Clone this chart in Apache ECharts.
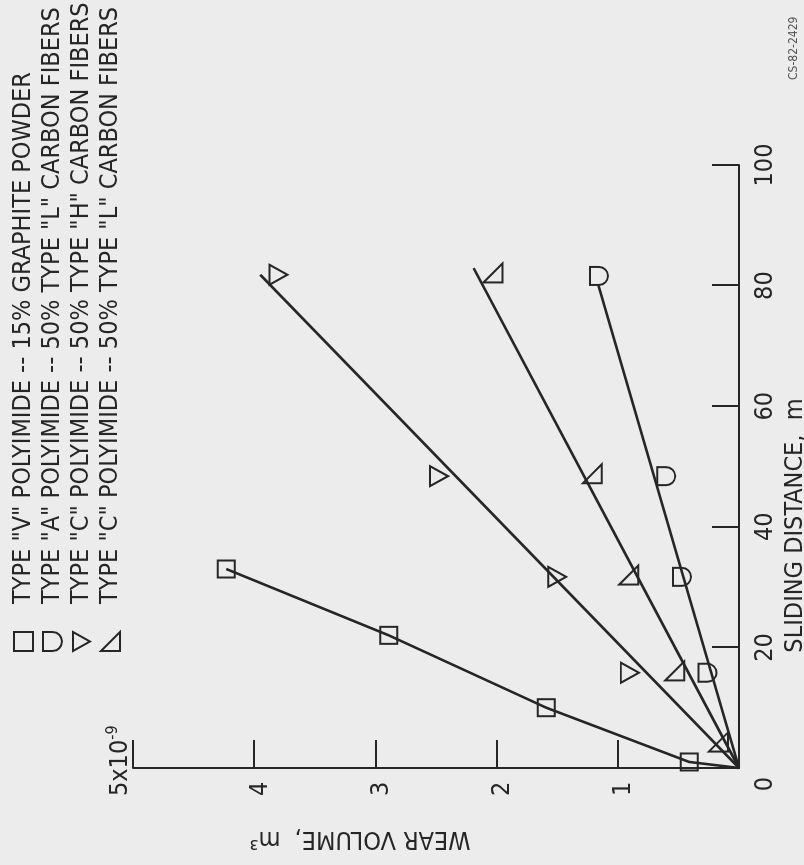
<!DOCTYPE html>
<html>
<head>
<meta charset="utf-8">
<script src="https://cdn.jsdelivr.net/npm/echarts@6/dist/echarts.min.js"></script>
<style>
  html, body { margin: 0; padding: 0; width: 804px; height: 865px; overflow: hidden; background: #ececec; }
  #wrap { position: absolute; left: 0; top: 0; width: 865px; height: 804px;
          transform-origin: 0 0; transform: translate(0px, 865px) rotate(-90deg); }
</style>
</head>
<body>
<div id="wrap"></div>
<script>
// ---- data (sliding distance in m, wear volume in units of 1e-9 m^3) ----
const seriesNames = [
  'TYPE "V" POLYIMIDE -- 15% GRAPHITE POWDER',
  'TYPE "A" POLYIMIDE -- 50% TYPE "L" CARBON FIBERS',
  'TYPE "C" POLYIMIDE -- 50% TYPE "H" CARBON FIBERS',
  'TYPE "C" POLYIMIDE -- 50% TYPE "L" CARBON FIBERS'
];
const distV  = [0, 1, 10, 22, 33];
const wearV  = [0, 0.41, 1.59, 2.89, 4.23];
const distA  = [15.8, 31.7, 48.4, 81.6];
const wearA  = [0.26, 0.47, 0.60, 1.155];
const distCH = [15.8, 31.7, 48.4, 81.8];
const wearCH = [0.90, 1.50, 2.475, 3.80];
const distCL = [4.3, 16.1, 32.0, 48.8, 82.1];
const wearCL = [0.17, 0.53, 0.91, 1.21, 2.03];
// fitted straight lines through the origin: [start, end]
const fitDistA  = [0, 80.0];  const fitWearA  = [0, 1.16];
const fitDistCH = [0, 81.8];  const fitWearCH = [0, 3.95];
const fitDistCL = [0, 82.9];  const fitWearCL = [0, 2.19];
const distTicks = [0, 20, 40, 60, 80, 100];
const wearTicks = [0, 1, 2, 3, 4, 5];

const FONT = "'Liberation Sans Narrow', 'DejaVu Sans Condensed', 'Roboto', sans-serif";
const INK = '#262626';
const zip = (a, b) => a.map((v, i) => [v, b[i]]);

const SYM_SQUARE = 'rect';
const SYM_D = 'path://M0,0 L20,0 L20,10 A10,10 0 0 1 0,10 Z';
const SYM_TRI = 'path://M0,0 L20,0 L10,18 Z';
const SYM_RT = 'path://M0,0 L0,20 L20,20 Z';

const markStyle = { color: 'rgba(0,0,0,0)', borderColor: INK, borderWidth: 2, opacity: 1 };
const lineStyle = { color: INK, width: 2.6 };

const dataV = zip(distV, wearV).map((p, i) => i === 0 ? { value: p, symbol: 'none' } : p);

const chart = echarts.init(document.getElementById('wrap'), null, { renderer: 'canvas' });
chart.setOption({
  backgroundColor: '#ececec',
  animation: false,
  textStyle: { fontFamily: FONT, color: INK },
  title: {
    text: 'CS-82-2429', left: 780, top: 783,
    textStyle: { fontFamily: FONT, fontSize: 12, fontWeight: 'normal', color: '#555' }
  },
  legend: {
    orient: 'vertical', left: 208, top: 6, itemGap: 4,
    itemWidth: 19, itemHeight: 19,
    itemStyle: { color: 'rgba(0,0,0,0)', borderColor: INK, borderWidth: 2, opacity: 1 },
    textStyle: { fontFamily: FONT, fontSize: 25, color: INK, lineHeight: 25, padding: [0, 0, 0, 23] },
    data: [
      { name: seriesNames[0], icon: SYM_SQUARE },
      { name: seriesNames[1], icon: SYM_D },
      { name: seriesNames[2], icon: SYM_TRI },
      { name: seriesNames[3], icon: SYM_RT }
    ]
  },
  grid: { left: 97, right: 165, top: 133, bottom: 65, containLabel: false, outerBoundsMode: 'none' },
  xAxis: {
    type: 'value', min: 0, max: 100, interval: 20,
    name: 'SLIDING DISTANCE,  m', nameLocation: 'middle', nameGap: 41,
    nameTextStyle: { fontFamily: FONT, fontSize: 25, color: INK, padding: [0, 118, 0, 0] },
    axisLine: { lineStyle: { color: INK, width: 2 } },
    axisTick: { inside: true, length: 27, lineStyle: { color: INK, width: 2 } },
    splitLine: { show: false },
    axisLabel: {
      margin: 14, fontFamily: FONT, fontSize: 25, color: INK,
      formatter: v => v === 0 ? '{z|0}' : String(v),
      rich: { z: { fontFamily: FONT, fontSize: 25, color: INK, padding: [0, 32, 0, 0] } }
    }
  },
  yAxis: {
    type: 'value', min: 0, max: 5, interval: 1,
    name: 'WEAR VOLUME,  m³', nameLocation: 'middle', nameGap: 58,
    nameTextStyle: { fontFamily: FONT, fontSize: 25, color: INK, padding: [0, 0, 0, 152] },
    axisLine: { lineStyle: { color: INK, width: 2 } },
    axisTick: { inside: true, length: 28, lineStyle: { color: INK, width: 2 } },
    splitLine: { show: false },
    axisLabel: {
      margin: 28, align: 'left', fontFamily: FONT, fontSize: 25, color: INK,
      formatter: v => v === 0 ? '' : (v === 5 ? '{b|5x10}{s|-9}' : '{n|' + v + '}'),
      rich: {
        n: { fontFamily: FONT, fontSize: 25, color: INK, lineHeight: 25, padding: [12, 0, 0, 0] },
        b: { fontFamily: FONT, fontSize: 25, color: INK, lineHeight: 25, padding: [0, 0, 26, 0] },
        s: { fontFamily: FONT, fontSize: 16, color: INK, lineHeight: 16, padding: [0, 0, 40, 0] }
      }
    }
  },
  series: [
    { name: seriesNames[0], type: 'line', data: dataV, symbol: SYM_SQUARE, symbolSize: 17,
      showSymbol: true, itemStyle: markStyle, lineStyle: lineStyle, z: 3 },
    { name: seriesNames[1], type: 'scatter', data: zip(distA, wearA), symbol: SYM_D, symbolSize: [18, 18], itemStyle: markStyle, z: 3 },
    { name: seriesNames[2], type: 'scatter', data: zip(distCH, wearCH), symbol: SYM_TRI, symbolSize: [20, 18], itemStyle: markStyle, z: 3 },
    { name: seriesNames[3], type: 'scatter', data: zip(distCL, wearCL), symbol: SYM_RT, symbolSize: [19, 19], itemStyle: markStyle, z: 3 },
    { name: 'fitA', type: 'line', data: zip(fitDistA, fitWearA), showSymbol: false, symbol: 'none', lineStyle: lineStyle, z: 2 },
    { name: 'fitCH', type: 'line', data: zip(fitDistCH, fitWearCH), showSymbol: false, symbol: 'none', lineStyle: lineStyle, z: 2 },
    { name: 'fitCL', type: 'line', data: zip(fitDistCL, fitWearCL), showSymbol: false, symbol: 'none', lineStyle: lineStyle, z: 2 }
  ]
});
</script>
</body>
</html>
